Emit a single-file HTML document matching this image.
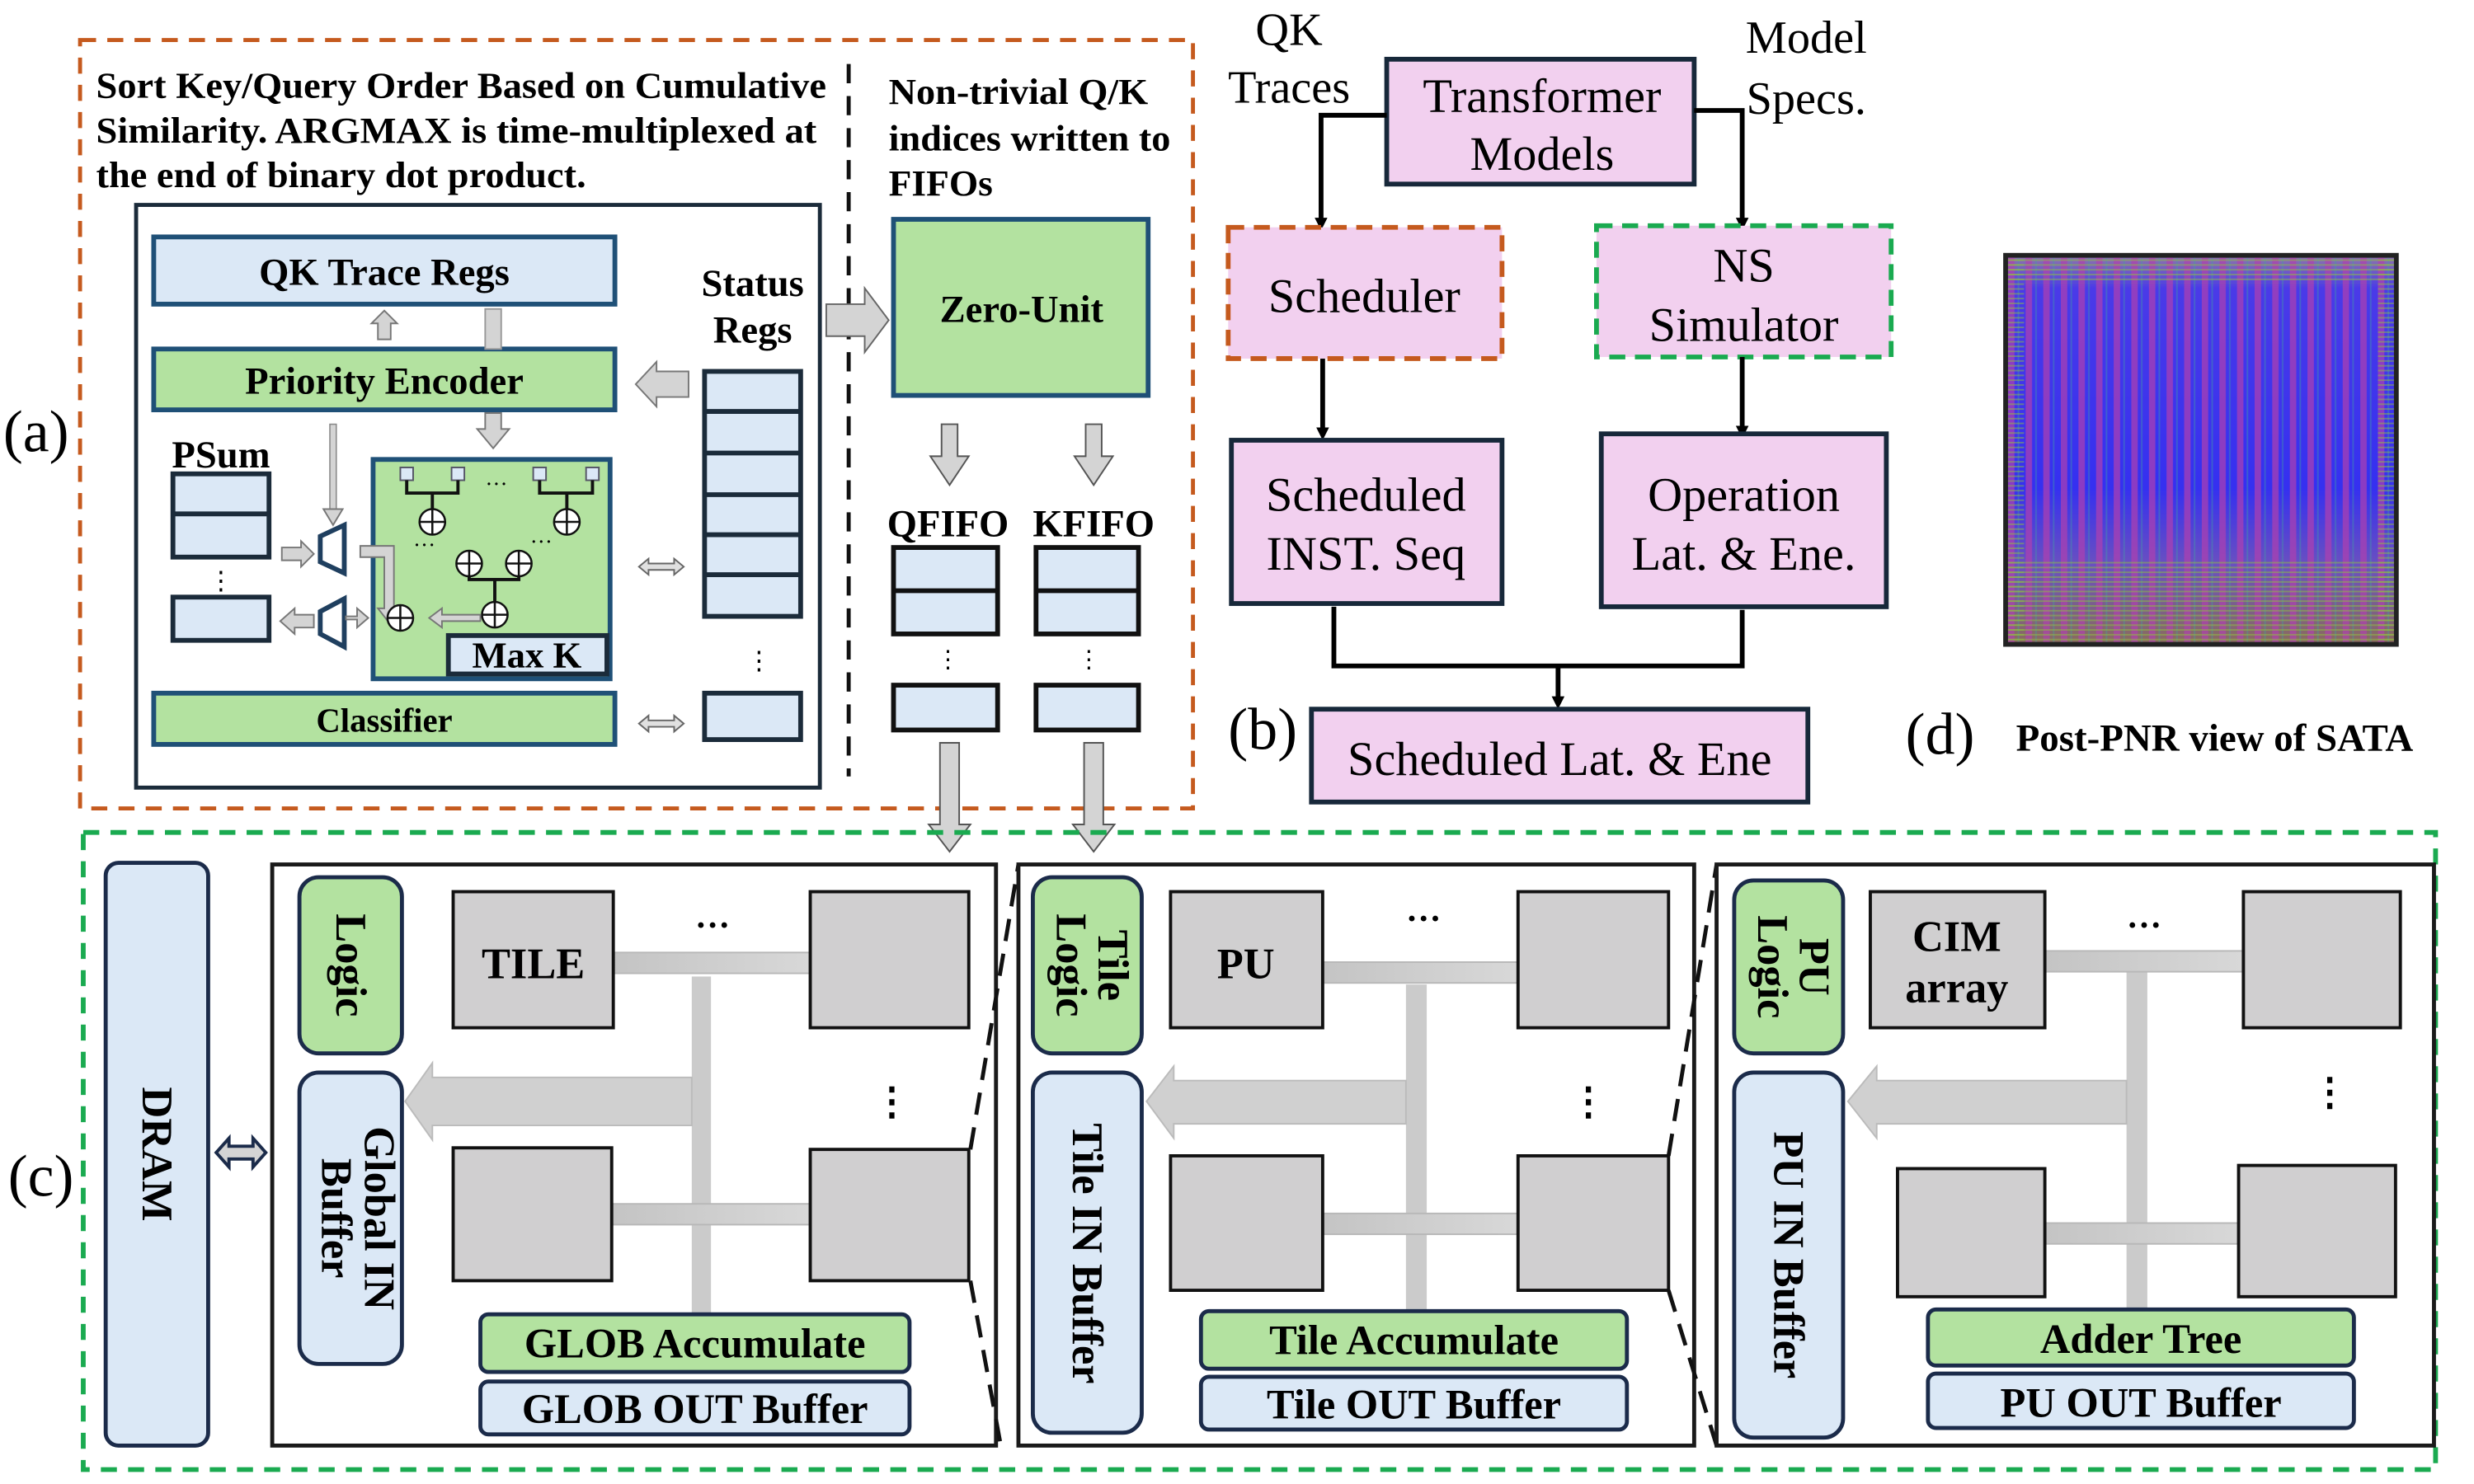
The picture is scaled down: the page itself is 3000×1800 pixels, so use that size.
<!DOCTYPE html>
<html><head><meta charset="utf-8"><style>
html,body{margin:0;padding:0;background:#fff;}
svg{display:block;font-family:"Liberation Serif","Times New Roman","DejaVu Serif",serif;}
svg text{font-family:"Liberation Serif","Times New Roman","DejaVu Serif",serif;}
.b{font-weight:bold;}
</style></head><body>
<svg width="3000" height="1800" viewBox="0 0 1545 927" preserveAspectRatio="none" xmlns="http://www.w3.org/2000/svg" font-family="Liberation Serif, Times New Roman, DejaVu Serif, serif">
<defs>
<marker id="ah" markerWidth="8" markerHeight="8" refX="4" refY="4" orient="auto" markerUnits="userSpaceOnUse"><path d="M0,0 L8,4 L0,8 z" fill="#000"/></marker>
<linearGradient id="chipg" x1="0" y1="0" x2="0" y2="1">
<stop offset="0" stop-color="#8a70b0"/><stop offset="0.08" stop-color="#4a3ae8"/><stop offset="0.6" stop-color="#3530f0"/><stop offset="0.8" stop-color="#6a50c0"/><stop offset="1" stop-color="#8a6a60"/></linearGradient>
<pattern id="stripes" width="11" height="10" patternUnits="userSpaceOnUse"><rect x="0" width="4" height="10" fill="#b040b0" opacity="0.7"/><rect x="6" width="1" height="10" fill="#40a0a0" opacity="0.4"/></pattern>
<pattern id="hlines" width="10" height="3" patternUnits="userSpaceOnUse"><rect width="10" height="1" fill="#90c040" opacity="0.5"/></pattern>
<linearGradient id="bus" x1="0" y1="0" x2="1" y2="0"><stop offset="0" stop-color="#c4c4c4"/><stop offset="1" stop-color="#d8d8d8"/></linearGradient>
</defs>

<!-- (a) -->
<rect x="50" y="25" width="695" height="480" fill="none" stroke="#c55a1e" stroke-width="2.5" stroke-dasharray="10,7"/>
<text x="2" y="282" font-size="37">(a)</text>
<text class="b" x="60" y="61" font-size="23" textLength="456" lengthAdjust="spacingAndGlyphs">Sort Key/Query Order Based on Cumulative</text>
<text class="b" x="60" y="89" font-size="23" textLength="450" lengthAdjust="spacingAndGlyphs">Similarity. ARGMAX is time-multiplexed at</text>
<text class="b" x="60" y="117" font-size="23" textLength="306" lengthAdjust="spacingAndGlyphs">the end of binary dot product.</text>
<rect x="85" y="128" width="427" height="364" fill="none" stroke="#1b2b3a" stroke-width="2.5"/>
<rect x="96" y="148" width="288" height="42" fill="#dbe8f6" stroke="#1f5077" stroke-width="3"/>
<text class="b" x="240" y="178" font-size="24" text-anchor="middle">QK Trace Regs</text>
<rect x="96" y="218" width="288" height="38" fill="#b3e2a0" stroke="#1f5077" stroke-width="3"/>
<text class="b" x="240" y="246" font-size="24" text-anchor="middle">Priority Encoder</text>
<path d="M236,212 V202 H232 L240,194 L248,202 H244 V212 Z" fill="#d4d4d4" stroke="#777" stroke-width="1"/>
<rect x="303" y="193" width="10" height="25" fill="#d4d4d4" stroke="#999" stroke-width="1"/>
<path d="M303,258 V268 H298 L308,280 L318,268 H313 V258 Z" fill="#d4d4d4" stroke="#777" stroke-width="1"/>
<text class="b" x="470" y="185" font-size="24" text-anchor="middle">Status</text>
<text class="b" x="470" y="214" font-size="24" text-anchor="middle">Regs</text>
<rect x="440" y="232" width="60" height="153" fill="#dbe8f6" stroke="#1b2b3a" stroke-width="3"/>
<g stroke="#1b2b3a" stroke-width="3"><line x1="440" y1="257" x2="500" y2="257"/><line x1="440" y1="283" x2="500" y2="283"/><line x1="440" y1="309" x2="500" y2="309"/><line x1="440" y1="334" x2="500" y2="334"/><line x1="440" y1="359" x2="500" y2="359"/></g>
<text x="474" y="418" font-size="16" text-anchor="middle">⋮</text>
<rect x="440" y="433" width="60" height="29" fill="#dbe8f6" stroke="#1b2b3a" stroke-width="3"/>
<path d="M430,232 V248 H410 V254 L397,240 L410,226 V232 Z" fill="#d4d4d4" stroke="#777" stroke-width="1"/>
<path d="M399,354 L405,349 V352 H421 V349 L427,354 L421,359 V356 H405 V359 Z" fill="#e0e0e0" stroke="#666" stroke-width="1"/>
<path d="M399,452 L405,447 V450 H421 V447 L427,452 L421,457 V454 H405 V457 Z" fill="#e0e0e0" stroke="#666" stroke-width="1"/>
<text class="b" x="138" y="292" font-size="24" text-anchor="middle">PSum</text>
<rect x="108" y="296" width="60" height="52" fill="#dbe8f6" stroke="#1b2b3a" stroke-width="3"/>
<line x1="108" y1="321" x2="168" y2="321" stroke="#1b2b3a" stroke-width="3"/>
<text x="138" y="368" font-size="16" text-anchor="middle">⋮</text>
<rect x="108" y="373" width="60" height="27" fill="#dbe8f6" stroke="#1b2b3a" stroke-width="3"/>
<rect x="206" y="265" width="4" height="55" fill="#d4d4d4" stroke="#888" stroke-width="0.8"/>
<path d="M202,318 L208,328 L214,318 Z" fill="#d4d4d4" stroke="#777" stroke-width="1"/>
<path d="M176,342 H188 V338 L196,346 L188,354 V350 H176 Z" fill="#d4d4d4" stroke="#777" stroke-width="1"/>
<path d="M200,335 L215,328 V358 L200,351 Z" fill="#fff" stroke="#1f3f5f" stroke-width="3"/>
<path d="M200,382 L215,374 V404 L200,396 Z" fill="#fff" stroke="#1f3f5f" stroke-width="3"/>
<path d="M196,384 H184 V380 L175,388 L184,396 V392 H196 Z" fill="#d4d4d4" stroke="#777" stroke-width="1"/>
<rect x="233" y="287" width="148" height="137" fill="#b3e2a0" stroke="#1f5077" stroke-width="3"/>
<path d="M216,385 H223 V380 L230,386 L223,392 V387 H216 Z" fill="#d4d4d4" stroke="#777" stroke-width="1"/>
<path d="M225,341 H246 V380 H250 L243,389 L236,380 H240 V348 H225 Z" fill="#d4d4d4" stroke="#777" stroke-width="1"/>
<g fill="#dbe8f6" stroke="#556" stroke-width="1"><rect x="250" y="292" width="8" height="8"/><rect x="282" y="292" width="8" height="8"/><rect x="333" y="292" width="8" height="8"/><rect x="366" y="292" width="8" height="8"/></g>
<g stroke="#111" stroke-width="2" fill="none">
<path d="M254,300 V308 H286 V300 M270,308 V318"/><path d="M337,300 V308 H370 V300 M354,308 V318"/>
<path d="M293,352 V362 H324 V352 M309,362 V376"/>
</g>
<g fill="#fff" stroke="#111" stroke-width="1.3">
<circle cx="270" cy="326" r="8"/><circle cx="354" cy="326" r="8"/><circle cx="293" cy="352" r="8"/><circle cx="324" cy="352" r="8"/><circle cx="309" cy="384" r="8"/><circle cx="250" cy="386" r="8"/>
</g>
<g stroke="#111" stroke-width="1.3">
<path d="M262,326 H278 M270,318 V334 M346,326 H362 M354,318 V334 M285,352 H301 M293,344 V360 M316,352 H332 M324,344 V360 M301,384 H317 M309,376 V392 M242,386 H258 M250,378 V394"/></g>
<text x="310" y="307" font-size="14" text-anchor="middle">···</text>
<text x="265" y="345" font-size="14" text-anchor="middle">···</text>
<text x="338" y="343" font-size="14" text-anchor="middle">···</text>
<path d="M300,384 H276 V380 L268,386 L276,392 V388 H300 Z" fill="#d4d4d4" stroke="#777" stroke-width="1"/>
<rect x="280" y="397" width="99" height="24" fill="#dbe8f6" stroke="#1b2b3a" stroke-width="3"/>
<text class="b" x="329" y="417" font-size="23" text-anchor="middle">Max K</text>
<rect x="96" y="433" width="288" height="32" fill="#b3e2a0" stroke="#1f5077" stroke-width="3"/>
<text class="b" x="240" y="457" font-size="21" text-anchor="middle">Classifier</text>
<line x1="530" y1="40" x2="530" y2="485" stroke="#111" stroke-width="2.5" stroke-dasharray="12,8"/>
<text class="b" x="555" y="65" font-size="23" textLength="162" lengthAdjust="spacingAndGlyphs">Non-trivial Q/K</text>
<text class="b" x="555" y="94" font-size="23" textLength="176" lengthAdjust="spacingAndGlyphs">indices written to</text>
<text class="b" x="555" y="122" font-size="23" textLength="65" lengthAdjust="spacingAndGlyphs">FIFOs</text>
<rect x="558" y="137" width="159" height="110" fill="#b3e2a0" stroke="#1f5077" stroke-width="3"/>
<text class="b" x="638" y="201" font-size="24" text-anchor="middle">Zero-Unit</text>
<path d="M516,190 H540 V180 L555,200 L540,220 V210 H516 Z" fill="#d4d4d4" stroke="#666" stroke-width="1"/>
<path d="M588,265 H598 V285 H605 L593,303 L581,285 H588 Z" fill="#d4d4d4" stroke="#555" stroke-width="1"/>
<path d="M678,265 H688 V285 H695 L683,303 L671,285 H678 Z" fill="#d4d4d4" stroke="#555" stroke-width="1"/>
<text class="b" x="592" y="335" font-size="24" text-anchor="middle">QFIFO</text>
<text class="b" x="683" y="335" font-size="24" text-anchor="middle">KFIFO</text>
<g fill="#dbe8f6" stroke="#111" stroke-width="3">
<rect x="558" y="342" width="65" height="54"/><rect x="647" y="342" width="64" height="54"/>
<rect x="558" y="428" width="65" height="28"/><rect x="647" y="428" width="64" height="28"/></g>
<line x1="558" y1="369" x2="623" y2="369" stroke="#111" stroke-width="3"/><line x1="647" y1="369" x2="711" y2="369" stroke="#111" stroke-width="3"/>
<text x="592" y="417" font-size="15" text-anchor="middle">⋮</text><text x="680" y="417" font-size="15" text-anchor="middle">⋮</text>
<path d="M587,464 H599 V515 H606 L593,532 L580,515 H587 Z" fill="#d4d4d4" stroke="#555" stroke-width="1"/>
<path d="M677,464 H689 V515 H696 L683,532 L670,515 H677 Z" fill="#d4d4d4" stroke="#555" stroke-width="1"/>

<!-- (b) -->
<text x="805" y="28" font-size="29" text-anchor="middle">QK</text>
<text x="805" y="64" font-size="29" text-anchor="middle">Traces</text>
<text x="1128" y="33" font-size="29" text-anchor="middle">Model</text>
<text x="1128" y="71" font-size="29" text-anchor="middle">Specs.</text>
<rect x="866" y="37" width="192" height="78" fill="#f2d0ef" stroke="#17283a" stroke-width="3"/>
<text x="963" y="70" font-size="30" text-anchor="middle">Transformer</text>
<text x="963" y="106" font-size="30" text-anchor="middle">Models</text>
<path d="M866,72 H825 V140" fill="none" stroke="#000" stroke-width="3" marker-end="url(#ah)"/>
<path d="M1058,69 H1088 V140" fill="none" stroke="#000" stroke-width="3" marker-end="url(#ah)"/>
<rect x="767" y="142" width="171" height="82" fill="#f2d0ef" stroke="#c55a1e" stroke-width="3" stroke-dasharray="10,6"/>
<text x="852" y="195" font-size="30" text-anchor="middle">Scheduler</text>
<rect x="997" y="141" width="184" height="82" fill="#f2d0ef" stroke="#1aaa50" stroke-width="3" stroke-dasharray="10,6"/>
<text x="1089" y="176" font-size="30" text-anchor="middle">NS</text>
<text x="1089" y="213" font-size="30" text-anchor="middle">Simulator</text>
<path d="M826,224 V271" stroke="#000" stroke-width="3" marker-end="url(#ah)"/>
<path d="M1088,223 V270" stroke="#000" stroke-width="3" marker-end="url(#ah)"/>
<rect x="769" y="275" width="169" height="102" fill="#f2d0ef" stroke="#17283a" stroke-width="3"/>
<text x="853" y="319" font-size="30" text-anchor="middle">Scheduled</text>
<text x="853" y="356" font-size="30" text-anchor="middle">INST. Seq</text>
<rect x="1000" y="271" width="178" height="108" fill="#f2d0ef" stroke="#17283a" stroke-width="3"/>
<text x="1089" y="319" font-size="30" text-anchor="middle">Operation</text>
<text x="1089" y="356" font-size="30" text-anchor="middle">Lat. &amp; Ene.</text>
<path d="M833,379 V416 H1088 V381" fill="none" stroke="#000" stroke-width="3"/>
<path d="M973,416 V439" stroke="#000" stroke-width="3" marker-end="url(#ah)"/>
<text x="767" y="468" font-size="37">(b)</text>
<rect x="819" y="443" width="310" height="58" fill="#f2d0ef" stroke="#17283a" stroke-width="3"/>
<text x="974" y="484" font-size="30" text-anchor="middle">Scheduled Lat. &amp; Ene</text>

<!-- (d) -->
<rect x="1251" y="158" width="247" height="246" fill="#222"/>
<rect x="1254" y="161" width="241" height="240" fill="url(#chipg)"/>
<rect x="1254" y="161" width="241" height="240" fill="url(#stripes)"/>
<rect x="1254" y="161" width="241" height="16" fill="url(#hlines)"/>
<rect x="1254" y="350" width="241" height="51" fill="url(#hlines)"/>
<rect x="1254" y="161" width="10" height="240" fill="url(#hlines)"/>
<rect x="1485" y="161" width="10" height="240" fill="url(#hlines)"/>
<text x="1190" y="471" font-size="37">(d)</text>
<text class="b" x="1259" y="469" font-size="24" textLength="248" lengthAdjust="spacingAndGlyphs">Post-PNR view of SATA</text>

<!-- (c) -->
<rect x="52" y="520" width="1469" height="398" fill="none" stroke="#1aaa50" stroke-width="3" stroke-dasharray="10,7"/>
<text x="5" y="747" font-size="37">(c)</text>
<rect x="66" y="539" width="64" height="364" rx="8" fill="#dbe8f6" stroke="#1b2b4a" stroke-width="2.5"/>
<text class="b" x="98" y="721" font-size="27" text-anchor="middle" transform="rotate(90 98 721) translate(0 9)">DRAM</text>
<path d="M135,720 L143,711 V716 H158 V711 L166,720 L158,729 V724 H143 V729 Z" fill="#d4d4d4" stroke="#1b2b4a" stroke-width="2"/>

<rect x="170" y="540" width="452" height="363" fill="#fff" stroke="#1a1a1a" stroke-width="2.5"/>
<rect x="187" y="548" width="64" height="110" rx="12" fill="#b3e2a0" stroke="#1b2b4a" stroke-width="2.5"/>
<text class="b" x="219" y="603" font-size="27" text-anchor="middle" transform="rotate(90 219 603) translate(0 9)">Logic</text>
<rect x="187" y="670" width="64" height="182" rx="12" fill="#dbe8f6" stroke="#1b2b4a" stroke-width="2.5"/>
<text class="b" font-size="27" text-anchor="middle" transform="rotate(90 219 761)"><tspan x="219" y="752">Global IN</tspan><tspan x="219" y="779">Buffer</tspan></text>
<rect x="432" y="610" width="12" height="212" fill="#cbcbcb"/>
<rect x="383" y="595" width="123" height="13" fill="url(#bus)" stroke="#b8b8b8"/>
<rect x="382" y="752" width="124" height="13" fill="url(#bus)" stroke="#b8b8b8"/>
<path d="M432,673 H270 V664 L253,688 L270,712 V703 H432 Z" fill="#d0d0d0" stroke="#bbb"/>
<g fill="#d0cfd0" stroke="#111" stroke-width="2"><rect x="283" y="557" width="100" height="85"/><rect x="506" y="557" width="99" height="85"/><rect x="283" y="717" width="99" height="83"/><rect x="506" y="718" width="99" height="82"/></g>
<text class="b" x="333" y="611" font-size="27" text-anchor="middle">TILE</text>
<text class="b" x="445" y="585" font-size="22" text-anchor="middle">···</text>
<text class="b" x="557" y="696" font-size="24" text-anchor="middle">⋮</text>
<rect x="300" y="821" width="268" height="36" rx="5" fill="#b3e2a0" stroke="#1b2b4a" stroke-width="2.5"/>
<text class="b" x="434" y="848" font-size="26" text-anchor="middle">GLOB Accumulate</text>
<rect x="300" y="863" width="268" height="33" rx="5" fill="#dbe8f6" stroke="#1b2b4a" stroke-width="2.5"/>
<text class="b" x="434" y="889" font-size="26" text-anchor="middle">GLOB OUT Buffer</text>
<path d="M606,718 L636,540 M606,800 L625,903" stroke="#111" stroke-width="2.5" stroke-dasharray="14,8" fill="none"/>

<rect x="636" y="540" width="422" height="363" fill="none" stroke="#1a1a1a" stroke-width="2.5"/>
<rect x="645" y="548" width="68" height="110" rx="12" fill="#b3e2a0" stroke="#1b2b4a" stroke-width="2.5"/>
<text class="b" font-size="27" text-anchor="middle" transform="rotate(90 679 603)"><tspan x="679" y="596">Tile</tspan><tspan x="679" y="622">Logic</tspan></text>
<rect x="645" y="670" width="68" height="225" rx="12" fill="#dbe8f6" stroke="#1b2b4a" stroke-width="2.5"/>
<text class="b" x="679" y="783" font-size="27" text-anchor="middle" transform="rotate(90 679 783) translate(0 9)">Tile IN Buffer</text>
<rect x="878" y="615" width="13" height="207" fill="#cbcbcb"/>
<rect x="826" y="601" width="122" height="13" fill="url(#bus)" stroke="#b8b8b8"/>
<rect x="826" y="758" width="122" height="13" fill="url(#bus)" stroke="#b8b8b8"/>
<path d="M878,675 H733 V666 L716,688 L733,711 V702 H878 Z" fill="#d0d0d0" stroke="#bbb"/>
<g fill="#d0cfd0" stroke="#111" stroke-width="2"><rect x="731" y="557" width="95" height="85"/><rect x="948" y="557" width="94" height="85"/><rect x="731" y="722" width="95" height="84"/><rect x="948" y="722" width="94" height="84"/></g>
<text class="b" x="778" y="611" font-size="27" text-anchor="middle">PU</text>
<text class="b" x="889" y="581" font-size="22" text-anchor="middle">···</text>
<text class="b" x="992" y="696" font-size="24" text-anchor="middle">⋮</text>
<rect x="750" y="819" width="266" height="36" rx="5" fill="#b3e2a0" stroke="#1b2b4a" stroke-width="2.5"/>
<text class="b" x="883" y="846" font-size="26" text-anchor="middle">Tile Accumulate</text>
<rect x="750" y="860" width="266" height="33" rx="5" fill="#dbe8f6" stroke="#1b2b4a" stroke-width="2.5"/>
<text class="b" x="883" y="886" font-size="26" text-anchor="middle">Tile OUT Buffer</text>
<path d="M1042,722 L1072,540 M1042,806 L1072,903" stroke="#111" stroke-width="2.5" stroke-dasharray="14,8" fill="none"/>

<rect x="1072" y="540" width="448" height="363" fill="none" stroke="#1a1a1a" stroke-width="2.5"/>
<rect x="1083" y="550" width="68" height="108" rx="12" fill="#b3e2a0" stroke="#1b2b4a" stroke-width="2.5"/>
<text class="b" font-size="27" text-anchor="middle" transform="rotate(90 1117 604)"><tspan x="1117" y="597">PU</tspan><tspan x="1117" y="623">Logic</tspan></text>
<rect x="1083" y="670" width="68" height="228" rx="12" fill="#dbe8f6" stroke="#1b2b4a" stroke-width="2.5"/>
<text class="b" x="1117" y="784" font-size="27" text-anchor="middle" transform="rotate(90 1117 784) translate(0 9)">PU IN Buffer</text>
<rect x="1328" y="606" width="13" height="214" fill="#cbcbcb"/>
<rect x="1277" y="594" width="124" height="13" fill="url(#bus)" stroke="#b8b8b8"/>
<rect x="1277" y="764" width="121" height="13" fill="url(#bus)" stroke="#b8b8b8"/>
<path d="M1328,675 H1172 V666 L1154,688 L1172,711 V702 H1328 Z" fill="#d0d0d0" stroke="#bbb"/>
<g fill="#d0cfd0" stroke="#111" stroke-width="2"><rect x="1168" y="557" width="109" height="85"/><rect x="1401" y="557" width="98" height="85"/><rect x="1185" y="730" width="92" height="80"/><rect x="1398" y="728" width="98" height="82"/></g>
<text class="b" x="1222" y="594" font-size="27" text-anchor="middle">CIM</text>
<text class="b" x="1222" y="626" font-size="27" text-anchor="middle">array</text>
<text class="b" x="1339" y="585" font-size="22" text-anchor="middle">···</text>
<text class="b" x="1455" y="690" font-size="24" text-anchor="middle">⋮</text>
<rect x="1204" y="818" width="266" height="35" rx="5" fill="#b3e2a0" stroke="#1b2b4a" stroke-width="2.5"/>
<text class="b" x="1337" y="845" font-size="26" text-anchor="middle">Adder Tree</text>
<rect x="1204" y="858" width="266" height="34" rx="5" fill="#dbe8f6" stroke="#1b2b4a" stroke-width="2.5"/>
<text class="b" x="1337" y="885" font-size="26" text-anchor="middle">PU OUT Buffer</text>
</svg>
</body></html>
